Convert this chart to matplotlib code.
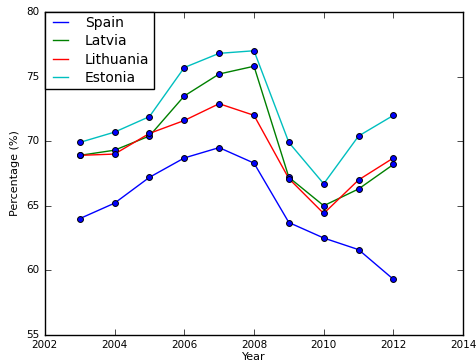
import numpy as np
import matplotlib
matplotlib.use("Agg")
import matplotlib.pyplot as plt

# Employment rate by year (%)
years = [2003, 2004, 2005, 2006, 2007, 2008, 2009, 2010, 2011, 2012]
spain = [64.0, 65.2, 67.2, 68.7, 69.5, 68.3, 63.7, 62.5, 61.6, 59.3]
latvia = [68.9, 69.3, 70.4, 73.5, 75.2, 75.8, 67.2, 65.0, 66.3, 68.2]
lithuania = [68.9, 69.0, 70.6, 71.6, 72.9, 72.0, 67.1, 64.4, 67.0, 68.7]
estonia = [69.9, 70.7, 71.9, 75.7, 76.8, 77.0, 69.9, 66.7, 70.4, 72.0]

countries = ["Spain", "Latvia", "Lithuania", "Estonia"]
colors = ["b", "g", "r", "c"]


def main():
    plt.style.use("classic")
    fig = plt.figure(figsize=(4.77, 3.64), dpi=100, facecolor="white")
    ax = fig.add_axes([0.094, 0.080, 0.877, 0.887])

    series = [spain, latvia, lithuania, estonia]
    for name, vals, col in zip(countries, series, colors):
        ax.plot(years, vals, color=col, lw=1.0, label=name)
        ax.scatter(years, vals, s=18, c="b", edgecolors="k", linewidths=0.7, zorder=3)

    ax.set_xlim(2002, 2014)
    ax.set_ylim(55, 80)
    ax.set_xticks(np.arange(2002, 2015, 2))
    ax.set_yticks(np.arange(55, 81, 5))
    ax.ticklabel_format(useOffset=False)
    ax.tick_params(labelsize=7.5)
    ax.set_xlabel("Year", fontsize=8, labelpad=1)
    ax.set_ylabel("Percentage (%)", fontsize=8, labelpad=4)

    leg = ax.legend(loc="upper left", fontsize=10, borderaxespad=0.0,
                    handlelength=1.7, labelspacing=0.3, borderpad=0.3,
                    handletextpad=0.9, fancybox=False)
    leg.get_frame().set_linewidth(1.0)

    fig.savefig("out.png", dpi=100, facecolor="white")


if __name__ == '__main__':
    main()
